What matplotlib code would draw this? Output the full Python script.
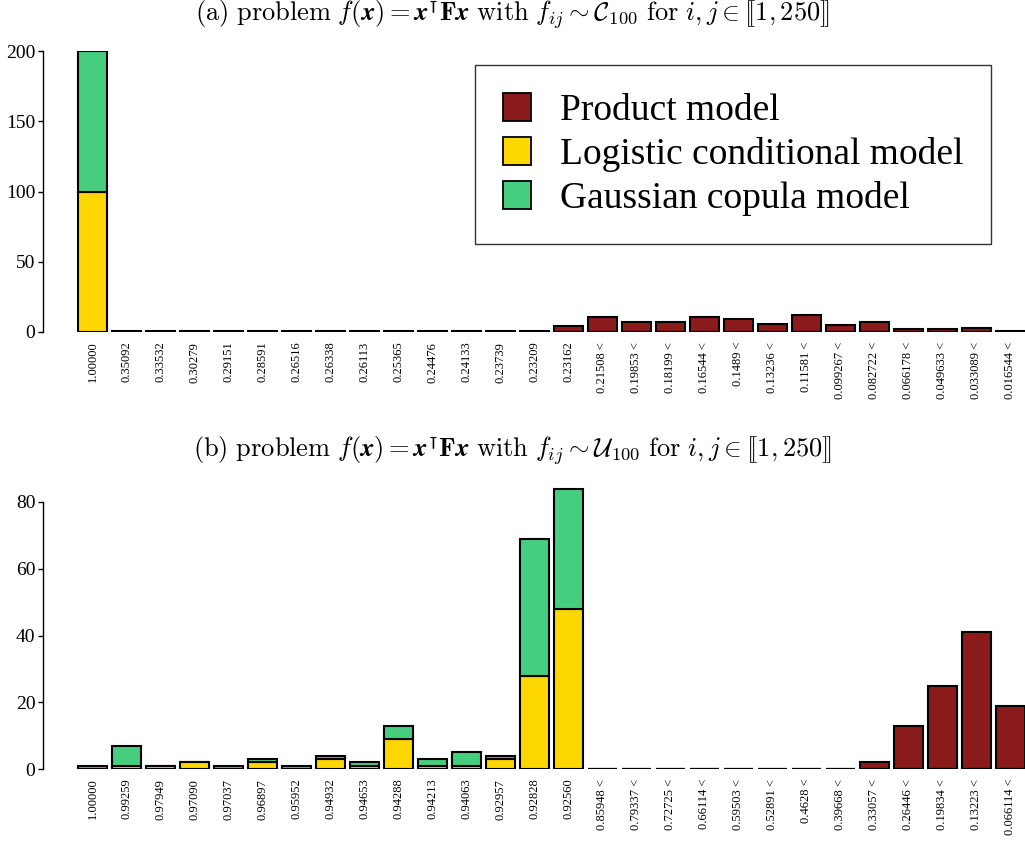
import matplotlib
matplotlib.use("Agg")
import matplotlib.pyplot as plt
import numpy as np
from matplotlib.patches import Patch

plt.rcParams['font.family'] = ['Liberation Serif', 'DejaVu Serif']
plt.rcParams['mathtext.fontset'] = 'cm'

# ---- (a) Cauchy-type problem ----
labels_a = ["1.00000", "0.35092", "0.33532", "0.30279", "0.29151", "0.28591",
            "0.26516", "0.26338", "0.26113", "0.25365", "0.24476", "0.24133",
            "0.23739", "0.23209", "0.23162", "0.21508 <", "0.19853 <",
            "0.18199 <", "0.16544 <", "0.1489 <", "0.13236 <", "0.11581 <",
            "0.099267 <", "0.082722 <", "0.066178 <", "0.049633 <",
            "0.033089 <", "0.016544 <"]
product_a = [0, 1, 1, 1, 1, 1, 1, 1, 1, 1, 1, 1, 1, 1, 4, 11, 7, 7, 11, 9, 6,
             12, 5, 7, 2, 2, 3, 1]
logistic_a = [100] + [0] * 27
gaussian_a = [100] + [0] * 27

# ---- (b) uniform problem ----
labels_b = ["1.00000", "0.99259", "0.97949", "0.97090", "0.97037", "0.96897",
            "0.95952", "0.94932", "0.94653", "0.94288", "0.94213", "0.94063",
            "0.92957", "0.92828", "0.92560", "0.85948 <", "0.79337 <",
            "0.72725 <", "0.66114 <", "0.59503 <", "0.52891 <", "0.4628 <",
            "0.39668 <", "0.33057 <", "0.26446 <", "0.19834 <", "0.13223 <",
            "0.066114 <"]
product_b = [0] * 23 + [2, 13, 25, 41, 19]
logistic_b = [0, 1, 1, 2, 0, 2, 0, 3, 1, 9, 1, 1, 3, 28, 48] + [0] * 13
gaussian_b = [1, 6, 0, 0, 1, 1, 1, 1, 1, 4, 2, 4, 1, 41, 36] + [0] * 13

series_names = ["Product model", "Logistic conditional model",
                "Gaussian copula model"]
RED = "#8B1A1A"
YELLOW = "#FFD700"
GREEN = "#45CE80"

W, H = 1025, 842
fig = plt.figure(figsize=(W / 100, H / 100), dpi=100)


def panel(rect, labels, prod, logi, gaus, ylim, yticks, spine_top):
    ax = fig.add_axes(rect)
    x = np.arange(len(labels))
    kw = dict(width=0.85, edgecolor="black", linewidth=1.5)
    ax.bar(x, prod, color=RED, **kw)
    ax.bar(x, logi, color=YELLOW, **kw)
    ax.bar(x, gaus, bottom=logi, color=GREEN, **kw)
    ax.set_xlim(-1.456, 27.43)
    ax.set_ylim(*ylim)
    ax.set_yticks(yticks)
    ax.set_xticks(x)
    ax.set_xticklabels(labels, rotation=90, fontsize=9, va="top", ha="center")
    ax.tick_params(axis="x", length=0, pad=7)
    ax.tick_params(axis="y", length=3.5, width=1, pad=2, labelsize=14,
                   direction="out")
    for s in ("top", "right", "bottom"):
        ax.spines[s].set_visible(False)
    ax.spines["left"].set_linewidth(1)
    ax.spines["left"].set_bounds(0, spine_top)
    return ax


def px_rect(left, right, y_zero, y_top_px, top_val, ymax):
    scale = (y_zero - y_top_px) / top_val
    height_px = ymax * scale
    return [left / W, (H - y_zero) / H, (right - left) / W, height_px / H]


ax_a = panel(px_rect(43, 1025, 332, 51, 200, 200), labels_a, product_a,
             logistic_a, gaussian_a, (0, 200), [0, 50, 100, 150, 200], 200)
ax_b = panel(px_rect(43, 1025, 769, 502, 80, 86), labels_b, product_b,
             logistic_b, gaussian_b, (0, 86), [0, 20, 40, 60, 80], 80)

title_tpl = (r"$\mathrm{(%s)\ problem}\ f(\boldsymbol{x}) = "
             r"\boldsymbol{x}^{\intercal}\mathbf{F}\boldsymbol{x}"
             r"\ \mathrm{with}\ f_{ij} \sim \mathcal{%s}_{100}\ \mathrm{for}\ "
             r"i,j \in [\![1,250]\!]$")
fig.text(0.5, 1 - 15 / H, title_tpl % ("a", "C"),
         ha="center", va="center", fontsize=19)
fig.text(0.5, 1 - 451 / H, title_tpl % ("b", "U"),
         ha="center", va="center", fontsize=19)

handles = [Patch(facecolor=c, edgecolor="black", linewidth=1.3)
           for c in (RED, YELLOW, GREEN)]
leg = ax_a.legend(handles, series_names, loc="upper right",
                  bbox_to_anchor=((991 - 43) / (1025 - 43), (332 - 65) / 281),
                  fontsize=27, frameon=True, fancybox=False, edgecolor="black",
                  borderpad=0.75, labelspacing=0.24, handlelength=0.75,
                  handleheight=0.75, handletextpad=0.75, borderaxespad=0)
leg.get_frame().set_linewidth(1.0)

fig.savefig("out.png", dpi=100)
